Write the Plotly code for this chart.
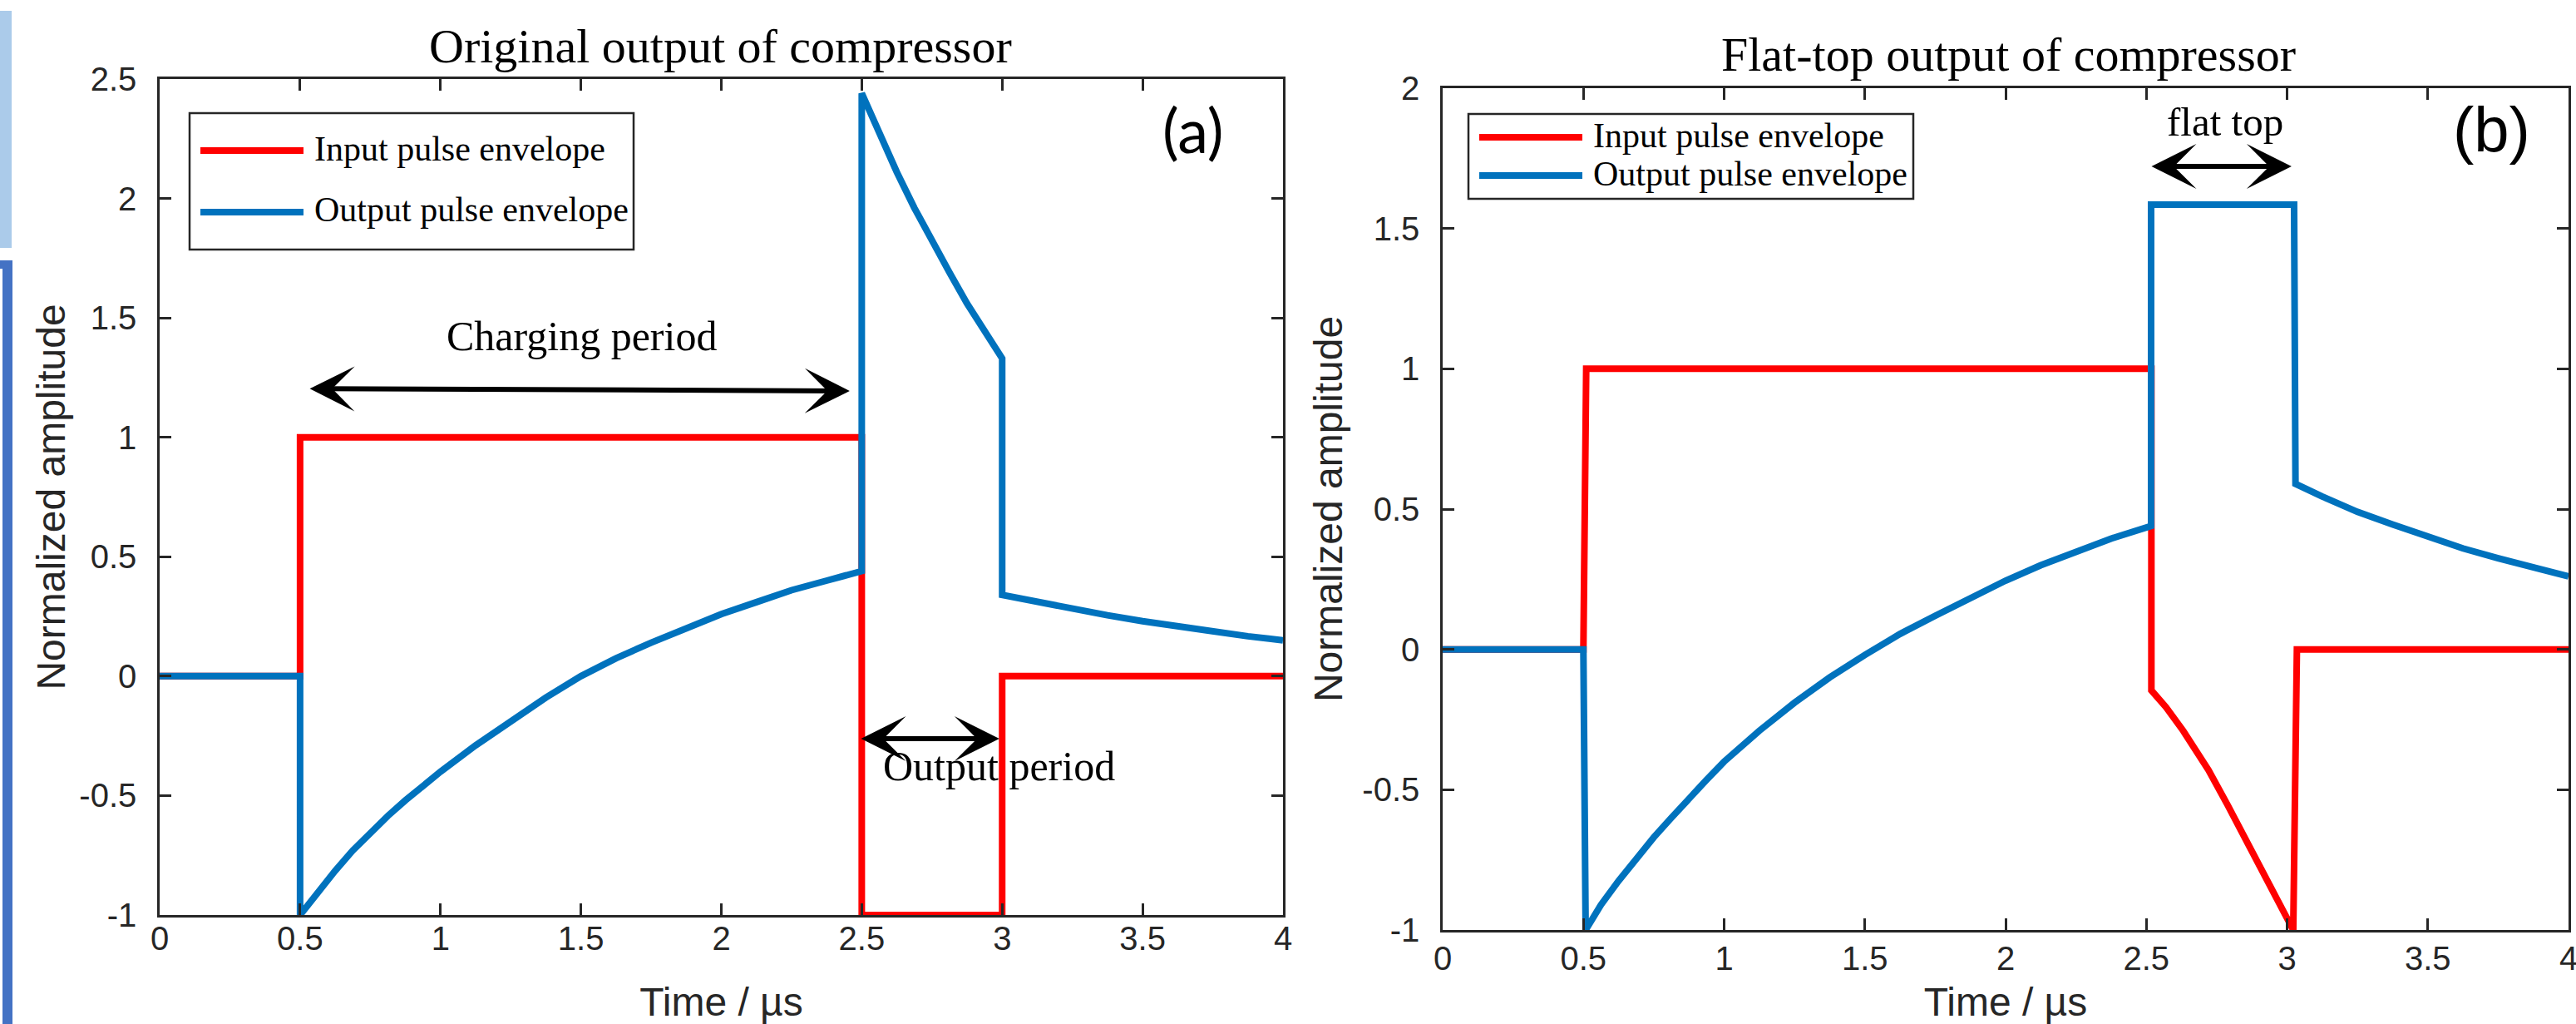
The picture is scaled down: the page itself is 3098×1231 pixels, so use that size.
import plotly.graph_objects as go

W, H = 3098, 1231

# ---------------- data ----------------
series_names = ["Input pulse envelope", "Output pulse envelope"]

# panel (a): original output of compressor
t_input_a = [0, 0.5, 0.5, 2.5, 2.5, 3.0, 3.0, 4.0]
v_input_a = [0, 0, 1, 1, -1, -1, 0, 0]

t_output_a = [0, 0.5,
              0.5, 0.5625, 0.625, 0.6875, 0.75, 0.8125, 0.875, 0.9375, 1.0, 1.125, 1.25, 1.375, 1.5,
              1.625, 1.75, 1.875, 2.0, 2.125, 2.25, 2.375, 2.5,
              2.5, 2.5625, 2.625, 2.6875, 2.75, 2.8125, 2.875, 2.9375, 3.0,
              3.0, 3.125, 3.25, 3.375, 3.5, 3.625, 3.75, 3.875, 4.0]
v_output_a = [0, 0,
              -1, -0.905, -0.815, -0.73, -0.655, -0.585, -0.52, -0.46, -0.40, -0.29, -0.19, -0.09, 0.0,
              0.075, 0.14, 0.20, 0.26, 0.31, 0.36, 0.40, 0.44,
              2.44, 2.27, 2.11, 1.96, 1.82, 1.69, 1.56, 1.44, 1.33,
              0.34, 0.31, 0.28, 0.255, 0.23, 0.207, 0.185, 0.167, 0.15]

# panel (b): flat-top output of compressor
t_input_b = [0, 0.5, 0.51, 2.518, 2.518, 2.570, 2.631, 2.721, 2.789, 2.901, 3.022, 3.035, 4.0]
v_input_b = [0, 0, 1, 1, -0.146, -0.206, -0.290, -0.430, -0.555, -0.770, -1.0, 0, 0]

t_output_b = [0, 0.5,
              0.508, 0.5625, 0.625, 0.6875, 0.75, 0.8125, 0.875, 0.9375, 1.0, 1.125, 1.25, 1.375, 1.5,
              1.625, 1.75, 1.875, 2.0, 2.125, 2.25, 2.375, 2.517,
              2.517, 3.025,
              3.03, 3.125, 3.25, 3.375, 3.5, 3.625, 3.75, 3.875, 4.0]
v_output_b = [0, 0,
              -1, -0.91, -0.825, -0.745, -0.67, -0.60, -0.53, -0.465, -0.40, -0.29, -0.19, -0.10, -0.02,
              0.055, 0.12, 0.185, 0.245, 0.30, 0.35, 0.395, 0.44,
              1.585, 1.585,
              0.59, 0.545, 0.49, 0.445, 0.40, 0.36, 0.325, 0.29, 0.26]

x_ticks = [0, 0.5, 1, 1.5, 2, 2.5, 3, 3.5, 4]
x_tick_labels = ["0", "0.5", "1", "1.5", "2", "2.5", "3", "3.5", "4"]
y_ticks_a = [-1, -0.5, 0, 0.5, 1, 1.5, 2, 2.5]
y_tick_labels_a = ["-1", "-0.5", "0", "0.5", "1", "1.5", "2", "2.5"]
y_ticks_b = [-1, -0.5, 0, 0.5, 1, 1.5, 2]
y_tick_labels_b = ["-1", "-0.5", "0", "0.5", "1", "1.5", "2"]

# ---------------- styling ----------------
RED = "#FF0000"
BLUE = "#0072BD"
AXC = "#262626"
SERIF = "Liberation Serif"
SANS = "Liberation Sans"
LW = 8


def px(x):
    return x / W


def py(y):
    return 1 - y / H


fig = go.Figure()
fig.add_trace(go.Scatter(x=t_input_a, y=v_input_a, mode="lines", name=series_names[0],
                         line=dict(color=RED, width=LW), xaxis="x", yaxis="y", showlegend=False))
fig.add_trace(go.Scatter(x=t_output_a, y=v_output_a, mode="lines", name=series_names[1],
                         line=dict(color=BLUE, width=LW), xaxis="x", yaxis="y", showlegend=False))
fig.add_trace(go.Scatter(x=t_input_b, y=v_input_b, mode="lines", name=series_names[0],
                         line=dict(color=RED, width=LW), xaxis="x2", yaxis="y2", showlegend=False))
fig.add_trace(go.Scatter(x=t_output_b, y=v_output_b, mode="lines", name=series_names[1],
                         line=dict(color=BLUE, width=LW), xaxis="x2", yaxis="y2", showlegend=False))


def axis_common():
    return dict(showline=True, linecolor=AXC, linewidth=2.5, mirror="ticks",
                ticks="inside", ticklen=14, tickwidth=2.5, tickcolor=AXC,
                showgrid=False, zeroline=False, automargin=False,
                ticklabeloverflow="allow",
                tickfont=dict(family=SANS, size=40, color=AXC))


TITLE_FONT = dict(family=SANS, size=48, color=AXC)
xa = axis_common()
xa.update(range=[0, 4], tickvals=x_ticks, ticktext=x_tick_labels, ticklabelstandoff=-9,
          title=dict(text="Time / µs", font=TITLE_FONT, standoff=41))
ya = axis_common()
ya.update(range=[-1, 2.5], tickvals=y_ticks_a, ticktext=y_tick_labels_a, ticklabelstandoff=17,
          title=dict(text="Normalized amplitude", font=TITLE_FONT, standoff=2))
xb = axis_common()
xb.update(range=[0, 4], tickvals=x_ticks, ticktext=x_tick_labels, ticklabelstandoff=-3,
          title=dict(text="Time / µs", font=TITLE_FONT, standoff=41))
yb = axis_common()
yb.update(range=[-1, 2], tickvals=y_ticks_b, ticktext=y_tick_labels_b, ticklabelstandoff=17,
          title=dict(text="Normalized amplitude", font=TITLE_FONT, standoff=9))

xa.update(domain=[px(192), px(1543)], anchor="y")
ya.update(domain=[py(1100), py(95)], anchor="x")
xb.update(domain=[px(1735), px(3089)], anchor="y2")
yb.update(domain=[py(1118), py(106)], anchor="x2")

shapes = []
# decorative bars at the left edge of the reference picture
shapes.append(dict(type="rect", xref="paper", yref="paper", x0=px(0), x1=px(14), y0=py(298), y1=py(13),
                   fillcolor="#ABCBEA", line=dict(width=0), layer="below"))
shapes.append(dict(type="rect", xref="paper", yref="paper", x0=px(3), x1=px(15), y0=py(1231), y1=py(313),
                   fillcolor="#4472C4", line=dict(width=0), layer="below"))
shapes.append(dict(type="rect", xref="paper", yref="paper", x0=px(0), x1=px(15), y0=py(323), y1=py(313),
                   fillcolor="#4472C4", line=dict(width=0), layer="below"))

# legend boxes (drawn by hand to match the long line samples)
for (x0, x1, y0, y1) in [(228, 762, 136, 300), (1766, 2301, 137, 239)]:
    shapes.append(dict(type="rect", xref="paper", yref="paper", x0=px(x0), x1=px(x1), y0=py(y1), y1=py(y0),
                       fillcolor="white", line=dict(color=AXC, width=2.5)))
legend_rows = [
    (241, 365, 181, 376, 182.5, 255, 255),
    (1779, 1903, 165, 1914, 165.5, 211, 212.5),
]
LEG_SIZE = 42
LEG_FONT = dict(family=SERIF, size=LEG_SIZE, color="black")
annotations = []
for (lx0, lx1, ly1, tx, ty1, ly2, ty2) in legend_rows:
    shapes.append(dict(type="line", xref="paper", yref="paper", x0=px(lx0), x1=px(lx1), y0=py(ly1), y1=py(ly1),
                       line=dict(color=RED, width=8)))
    shapes.append(dict(type="line", xref="paper", yref="paper", x0=px(lx0), x1=px(lx1), y0=py(ly2), y1=py(ly2),
                       line=dict(color=BLUE, width=8)))
    annotations.append(dict(xref="paper", yref="paper", x=px(tx), y=py(ty1), xanchor="left", yanchor="middle",
                            yshift=3, text=series_names[0], showarrow=False, font=LEG_FONT))
    annotations.append(dict(xref="paper", yref="paper", x=px(tx), y=py(ty2), xanchor="left", yanchor="middle",
                            yshift=3, text=series_names[1], showarrow=False, font=LEG_FONT))

# titles
TTL_FONT = dict(family=SERIF, size=58, color="black")
annotations.append(dict(xref="paper", yref="paper", x=px(866), y=py(57), xanchor="center", yanchor="middle",
                        yshift=2, text="Original output of compressor", showarrow=False, font=TTL_FONT))
annotations.append(dict(xref="paper", yref="paper", x=px(2415), y=py(68), xanchor="center", yanchor="middle",
                        yshift=2, text="Flat-top output of compressor", showarrow=False, font=TTL_FONT))
# panel labels
annotations.append(dict(xref="paper", yref="paper", x=px(1435), y=py(163), xanchor="center", yanchor="middle",
                        yshift=7, text="(a)", showarrow=False, font=dict(family="Lato", size=74, color="black")))
annotations.append(dict(xref="paper", yref="paper", x=px(2996), y=py(163), xanchor="center", yanchor="middle",
                        yshift=7, text="(b)", showarrow=False, font=dict(family=SANS, size=76, color="black")))

# double-headed arrows
arrow_style = dict(showarrow=True, text="", arrowhead=3, startarrowhead=3, arrowside="end+start",
                   arrowwidth=6, arrowsize=1.5, startarrowsize=1.5, arrowcolor="black",
                   standoff=0, startstandoff=0)
annotations.append(dict(xref="x", yref="y", axref="x", ayref="y", x=2.457, y=1.194, ax=0.53, ay=1.204, **arrow_style))
annotations.append(dict(xref="x", yref="y", axref="x", ayref="y", x=2.99, y=-0.262, ax=2.493, ay=-0.262, **arrow_style))
annotations.append(dict(xref="x2", yref="y2", axref="x2", ayref="y2", x=3.016, y=1.721, ax=2.514, ay=1.721, **arrow_style))

# arrow captions
CAP_FONT = dict(family=SERIF, size=50, color="black")
annotations.append(dict(xref="x", yref="y", x=1.504, y=1.41, text="Charging period", showarrow=False,
                        yshift=4, xanchor="center", yanchor="middle", font=CAP_FONT))
annotations.append(dict(xref="x", yref="y", x=2.99, y=-0.39, text="Output period", showarrow=False,
                        yshift=4, xanchor="center", yanchor="middle", font=CAP_FONT))
annotations.append(dict(xref="x2", yref="y2", x=2.78, y=1.867, text="flat top", showarrow=False,
                        yshift=4, xanchor="center", yanchor="middle",
                        font=dict(family=SERIF, size=49, color="black")))

fig.update_layout(
    template="none",
    width=W, height=H,
    margin=dict(l=0, r=0, t=0, b=0, pad=0, autoexpand=False),
    paper_bgcolor="white", plot_bgcolor="white",
    xaxis=xa, yaxis=ya, xaxis2=xb, yaxis2=yb,
    shapes=shapes, annotations=annotations,
    showlegend=False,
)

# remove the browser's default body margin so the figure sits at the page's top-left corner
fig.write_html("out.html", config={"displayModeBar": False},
               post_script="document.body.style.margin='0px';")
